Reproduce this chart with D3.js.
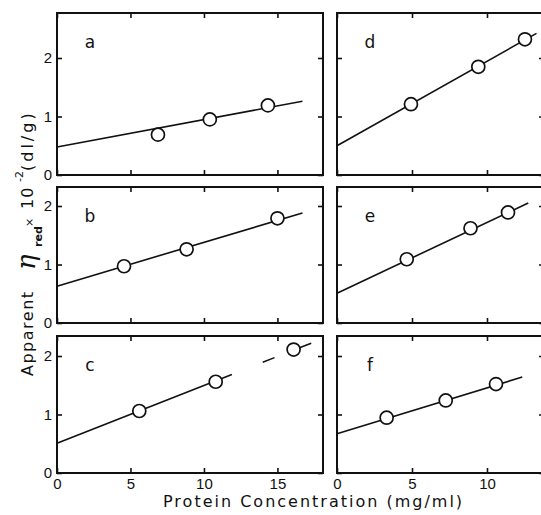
<!DOCTYPE html>
<html>
<head>
<meta charset="utf-8">
<script src="https://cdn.jsdelivr.net/npm/d3@7"></script>
<style>
  body { margin: 0; background: #fff; }
  svg { display: block; }
  .tick text { font-family: "Liberation Sans", Arial, sans-serif; font-size: 15px; fill: #111; }
  .tick line { stroke: #111; stroke-width: 1.6; }
</style>
</head>
<body>
<svg id="chart" width="541" height="515"></svg>
<script>
// panel data
const panelNames = ["a", "b", "c", "d", "e", "f"];
const concX = [
  [6.87, 10.4, 14.35],
  [4.56, 8.82, 15.0],
  [5.6, 10.8, 16.1],
  [4.93, 9.42, 12.53],
  [4.65, 8.9, 11.4],
  [3.31, 7.25, 10.6]
];
const viscY = [
  [0.69, 0.95, 1.19],
  [0.97, 1.26, 1.79],
  [1.06, 1.56, 2.11],
  [1.21, 1.85, 2.32],
  [1.09, 1.62, 1.89],
  [0.945, 1.24, 1.52]
];
const fitIntercept = [0.48, 0.63, 0.51, 0.5, 0.51, 0.67];
const fitSlope = [0.0467, 0.0749, 0.0988, 0.1444, 0.1208, 0.0785];
// fitted line drawn over these x ranges (panel c has broken line)
const fitSegments = [
  [[0, 16.7]],
  [[0, 16.7]],
  [[0, 11.9], [14.0, 14.8], [16.1, 17.3]],
  [[0, 13.3]],
  [[0, 12.75]],
  [[0, 12.35]]
];
const xTicks = [0, 5, 10, 15];
const yTicks = [0, 1, 2];

// layout
const colX = [[57, 323], [337, 544]];
const colMax = [18.1, 13.8];
const rowY = [[13, 175], [187, 323], [336, 473]];
const pxPerUnit = 58.5;

const svg = d3.select("#chart");

panelNames.forEach((name, i) => {
  const col = Math.floor(i / 3);
  const row = i % 3;
  const [x0, x1] = colX[col];
  const [y0, y1] = rowY[row];

  const x = d3.scaleLinear().domain([0, colMax[col]]).range([x0, x1]);
  const y = d3.scaleLinear().domain([0, (y1 - y0) / pxPerUnit]).range([y1, y0]);

  const g = svg.append("g");

  // ticks, all pointing inward
  const left = g.append("g").attr("transform", "translate(" + x0 + ",0)")
    .call(d3.axisLeft(y).tickValues(yTicks).tickSizeInner(-5).tickSizeOuter(0).tickPadding(5)
      .tickFormat(col === 0 ? d3.format("d") : () => ""));
  const right = g.append("g").attr("transform", "translate(" + x1 + ",0)")
    .call(d3.axisRight(y).tickValues(yTicks).tickSizeInner(-5).tickSizeOuter(0).tickFormat(() => ""));
  const top = g.append("g").attr("transform", "translate(0," + y0 + ")")
    .call(d3.axisTop(x).tickValues(xTicks.filter(v => v <= colMax[col])).tickSizeInner(-5).tickSizeOuter(0).tickFormat(() => ""));
  const bottom = g.append("g").attr("transform", "translate(0," + y1 + ")")
    .call(d3.axisBottom(x).tickValues(xTicks.filter(v => v <= colMax[col])).tickSizeInner(-5).tickSizeOuter(0).tickPadding(5)
      .tickFormat(row === 2 ? d3.format("d") : () => ""));
  [left, right, top, bottom].forEach(a => a.select(".domain").remove());
  // drop empty label nodes so they don't count as text
  g.selectAll(".tick text").filter(function () { return this.textContent === ""; }).remove();

  // frame
  g.append("rect")
    .attr("x", x0).attr("y", y0)
    .attr("width", x1 - x0).attr("height", y1 - y0)
    .attr("fill", "none").attr("stroke", "#111").attr("stroke-width", 2);

  // fitted line
  const fit = v => fitIntercept[i] + fitSlope[i] * v;
  fitSegments[i].forEach(seg => {
    g.append("line")
      .attr("x1", x(seg[0])).attr("y1", y(fit(seg[0])))
      .attr("x2", x(seg[1])).attr("y2", y(fit(seg[1])))
      .attr("stroke", "#111").attr("stroke-width", 1.6);
  });

  // data points
  g.selectAll("circle.pt").data(concX[i]).enter().append("circle")
    .attr("class", "pt")
    .attr("cx", d => x(d))
    .attr("cy", (d, k) => y(viscY[i][k]))
    .attr("r", 6.5)
    .attr("fill", "#fff").attr("stroke", "#111").attr("stroke-width", 1.7);

  // panel letter
  g.append("text")
    .attr("x", x0 + 33).attr("y", y0 + 35)
    .attr("text-anchor", "middle")
    .style("font-family", "DejaVu Sans, sans-serif")
    .style("font-size", "17px")
    .attr("fill", "#111")
    .text(name);
});

// x axis title
svg.append("text")
  .attr("x", 163).attr("y", 507)
  .style("font-family", "DejaVu Sans, sans-serif")
  .style("font-size", "16px")
  .style("letter-spacing", "2px")
  .attr("fill", "#111")
  .text("Protein Concentration (mg/ml)");

// y axis title
const yt = svg.append("text")
  .attr("transform", "translate(33,376) rotate(-90)")
  .style("font-family", "DejaVu Sans, sans-serif")
  .style("font-size", "16px")
  .attr("fill", "#111");
yt.append("tspan").attr("x", 0).attr("y", 0).style("letter-spacing", "1.5px").text("Apparent");
yt.append("tspan").attr("x", 106).attr("y", 2).style("font-size", "26px").style("font-style", "italic")
  .style("font-family", "DejaVu Serif, serif").text("\u03b7");
yt.append("tspan").attr("x", 129).attr("y", 9).style("font-size", "11px").style("font-weight", "bold").text("red");
yt.append("tspan").attr("x", 149).attr("y", 0).style("font-size", "11px").text("\u00d7");
yt.append("tspan").attr("x", 167).attr("y", 0).style("letter-spacing", "1px").text("10");
yt.append("tspan").attr("x", 194).attr("y", -10).style("font-size", "11px").text("-2");
yt.append("tspan").attr("x", 205).attr("y", 0).style("letter-spacing", "3px").text("(dl/g)");
</script>
</body>
</html>
